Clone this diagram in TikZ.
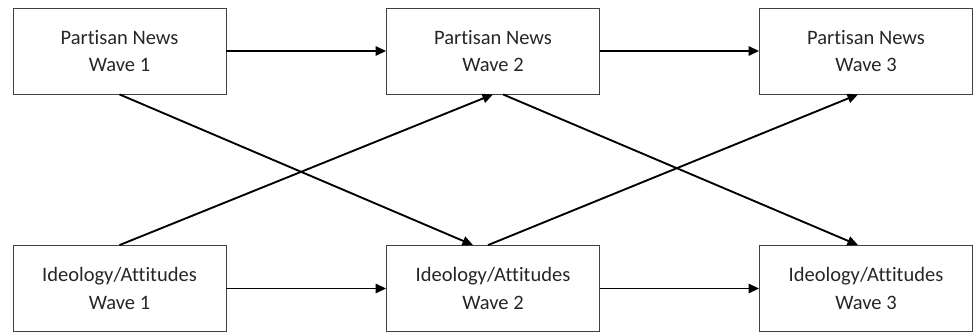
\documentclass[tikz,border=0pt]{standalone}
\usepackage{fontspec}
\setmainfont{Carlito}[Ligatures=NoCommon]
\usepackage{tikz}
\usetikzlibrary{arrows.meta,positioning,calc}

\tikzset{
  wavebox/.style={draw=black!75,line width=0.7pt,minimum width=6.39cm,minimum height=2.58cm,
    align=center,font=\fontsize{17.5}{23.5}\selectfont,text=black!85},
  lagline/.style={line width=1.6pt,-{Triangle[length=9pt,width=8pt]}}
}

\begin{document}
\begin{tikzpicture}[x=0.03cm,y=-0.03cm]
  \useasboundingbox (0,0) rectangle (973,333);
  \node[wavebox] (pn1) at (119.5,51) {Partisan News\\Wave 1};
  \node[wavebox] (pn2) at (493,51) {Partisan News\\Wave 2};
  \node[wavebox] (pn3) at (866,51) {Partisan News\\Wave 3};
  \node[wavebox] (ia1) at (119.5,288.5) {Ideology/Attitudes\\Wave 1};
  \node[wavebox] (ia2) at (493,288.5) {Ideology/Attitudes\\Wave 2};
  \node[wavebox] (ia3) at (866,288.5) {Ideology/Attitudes\\Wave 3};
  % stability paths
  \draw[lagline] (pn1) -- (pn2);
  \draw[lagline] (pn2) -- (pn3);
  \draw[lagline] (ia1) -- (ia2);
  \draw[lagline] (ia2) -- (ia3);
  % cross-lagged paths
  \draw[lagline] (pn1.south) -- ($(ia2.north)+(-20,0)$);
  \draw[lagline] (ia1.north) -- (pn2.south);
  \draw[lagline] ($(pn2.south)+(10,0)$) -- ($(ia3.north)+(-8,0)$);
  \draw[lagline] ($(ia2.north)+(-5,0)$) -- ($(pn3.south)+(-8,0)$);
\end{tikzpicture}
\end{document}
